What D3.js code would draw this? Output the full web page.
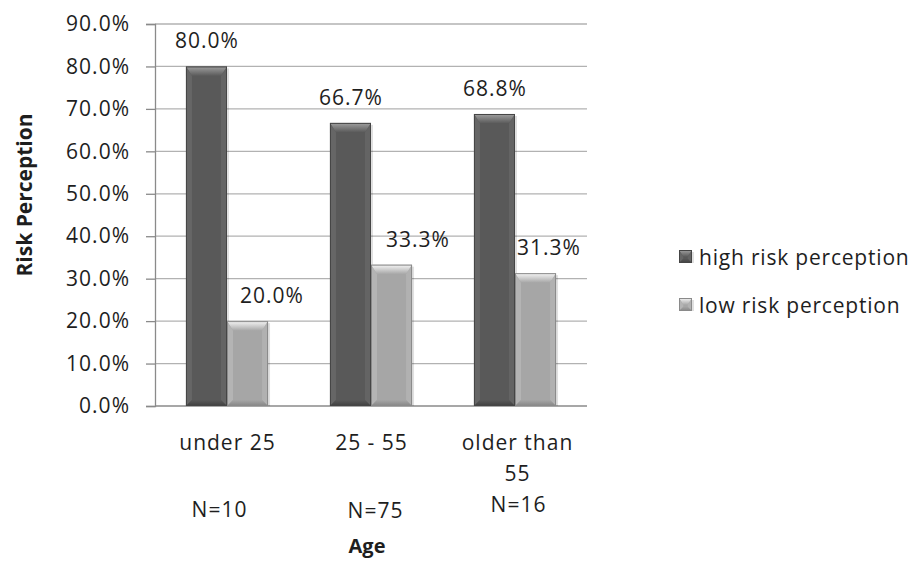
<!DOCTYPE html>
<html>
<head>
<meta charset="utf-8">
<script src="https://cdn.jsdelivr.net/npm/d3@7"></script>
<style>
  html, body { margin: 0; padding: 0; background: #ffffff; }
  svg { display: block; }
  text { font-family: "Open Sans", "Liberation Sans", sans-serif; fill: #1e1e1e; }
</style>
</head>
<body>
<svg id="chart" width="913" height="561"></svg>
<script>
// Age groups and their sample sizes
const categories = ["under 25", "25 - 55", "older than 55"];
const sampleSizes = ["N=10", "N=75", "N=16"];
// Share of respondents per risk-perception level (percent)
const highRisk = [80.0, 66.7, 68.8];
const lowRisk = [20.0, 33.3, 31.3];
const seriesNames = ["high risk perception", "low risk perception"];
const yTicks = [0, 10, 20, 30, 40, 50, 60, 70, 80, 90];

// Layout
const W = 913, H = 561;
const plot = { left: 155, right: 587, top: 24, bottom: 406 };
const lowLabelShift = [24, 26, 13];   // horizontal nudge for the light-bar labels
const FS = 21, LS = 1;                // body font size and letter spacing

const svg = d3.select("#chart");
const defs = svg.append("defs");

const palette = [
  { base: "#595959", hi: "#a0a0a0", side: "#666666", dark: "#3f3f3f", edge: "#454545" },
  { base: "#a6a6a6", hi: "#f6f6f6", side: "#b4b4b4", dark: "#858585", edge: "#8a8a8a" }
];

palette.forEach((p, i) => {
  const g = defs.append("linearGradient").attr("id", "top" + i)
    .attr("x1", 0).attr("y1", 0).attr("x2", 0).attr("y2", 1);
  g.append("stop").attr("offset", 0).attr("stop-color", p.hi);
  g.append("stop").attr("offset", 1).attr("stop-color", p.base);
  const b = defs.append("linearGradient").attr("id", "bot" + i)
    .attr("x1", 0).attr("y1", 0).attr("x2", 0).attr("y2", 1);
  b.append("stop").attr("offset", 0).attr("stop-color", p.base);
  b.append("stop").attr("offset", 1).attr("stop-color", p.dark);
});

const y = d3.scaleLinear().domain([0, 90]).range([plot.bottom, plot.top]);
const x0 = d3.scaleBand().domain(categories).range([plot.left, plot.right])
  .paddingInner(0.43).paddingOuter(0.215);
const x1 = d3.scaleBand().domain(seriesNames).range([0, x0.bandwidth()]);

// Horizontal gridlines
svg.append("g")
  .selectAll("line")
  .data(yTicks.filter(t => t > 0))
  .join("line")
  .attr("x1", plot.left).attr("x2", plot.right)
  .attr("y1", d => y(d)).attr("y2", d => y(d))
  .attr("stroke", "#b2b2b2").attr("stroke-width", 1.3);

// Y axis
const yAxis = d3.axisLeft(y).tickValues(yTicks)
  .tickFormat(d => d3.format(".1f")(d) + "%")
  .tickSizeOuter(0).tickSize(9).tickPadding(16);
const gy = svg.append("g").attr("transform", `translate(${plot.left},0)`).call(yAxis);
gy.select(".domain").attr("stroke", "#8a8a8a").attr("stroke-width", 1.3);
gy.selectAll(".tick line").attr("stroke", "#8a8a8a").attr("stroke-width", 1.3);
gy.selectAll(".tick text").attr("font-size", FS)
  .attr("font-family", "'Open Sans', sans-serif").attr("fill", "#1e1e1e")
  .attr("letter-spacing", LS);

// X axis baseline
const xAxis = d3.axisBottom(x0).tickSize(0).tickFormat("");
const gx = svg.append("g").attr("transform", `translate(0,${plot.bottom})`).call(xAxis);
gx.select(".domain").attr("stroke", "#8a8a8a").attr("stroke-width", 1.3)
  .attr("d", `M${plot.left},0H${plot.right}`);

// Bevelled bar
function bevelBar(g, x, yTop, w, h, p, idx) {
  const s = Math.min(6, h / 3);
  const x2 = x + w, yb = yTop + h;
  g.append("rect").attr("x", x + 2).attr("y", yTop + 2).attr("width", w).attr("height", h - 2)
    .attr("fill", "#000").attr("opacity", 0.12);
  g.append("rect").attr("x", x).attr("y", yTop).attr("width", w).attr("height", h)
    .attr("fill", p.base);
  g.append("polygon")
    .attr("points", [[x, yTop], [x2, yTop], [x2 - s, yTop + s * 1.6], [x + s, yTop + s * 1.6]].join(" "))
    .attr("fill", `url(#top${idx})`);
  g.append("polygon")
    .attr("points", [[x, yTop], [x + s, yTop + s * 1.6], [x + s, yb - s], [x, yb]].join(" "))
    .attr("fill", p.side);
  g.append("polygon")
    .attr("points", [[x2, yTop], [x2 - s, yTop + s * 1.6], [x2 - s, yb - s], [x2, yb]].join(" "))
    .attr("fill", p.side).attr("opacity", 0.8);
  g.append("polygon")
    .attr("points", [[x, yb], [x + s, yb - s], [x2 - s, yb - s], [x2, yb]].join(" "))
    .attr("fill", `url(#bot${idx})`);
  g.append("rect").attr("x", x + 0.5).attr("y", yTop + 0.5).attr("width", w - 1).attr("height", h - 1)
    .attr("fill", "none").attr("stroke", p.edge).attr("stroke-width", 1);
}

const series = [highRisk, lowRisk];
const bars = svg.append("g");
categories.forEach((c, ci) => {
  series.forEach((vals, si) => {
    const v = vals[ci];
    const bx = x0(c) + x1(seriesNames[si]);
    bevelBar(bars.append("g"), bx, y(v), x1.bandwidth(), y(0) - y(v), palette[si], si);
  });
});

// Value labels
const labels = svg.append("g");
categories.forEach((c, ci) => {
  series.forEach((vals, si) => {
    const v = vals[ci];
    const cx = x0(c) + x1(seriesNames[si]) + x1.bandwidth() / 2 + (si === 1 ? lowLabelShift[ci] : 0);
    labels.append("text")
      .attr("x", cx + LS / 2).attr("y", y(v) - 26)
      .attr("text-anchor", "middle").attr("dominant-baseline", "central")
      .attr("font-size", FS).attr("letter-spacing", LS)
      .text(d3.format(".1f")(v) + "%");
  });
});

// Category labels (wrapped) and sample sizes
const catLines = [["under 25"], ["25 - 55"], ["older than", "55"]];
const nY = [509, 510, 504];
categories.forEach((c, ci) => {
  const cx = x0(c) + x0.bandwidth() / 2;
  catLines[ci].forEach((line, li) => {
    svg.append("text").attr("x", cx + LS / 2 + (ci === 2 ? 2 : 0)).attr("y", 442 + li * 31)
      .attr("text-anchor", "middle").attr("dominant-baseline", "central")
      .attr("font-size", FS).attr("letter-spacing", LS).text(line);
  });
  svg.append("text").attr("x", cx + LS / 2 + [-8, 4, 3][ci]).attr("y", nY[ci])
    .attr("text-anchor", "middle").attr("dominant-baseline", "central")
    .attr("font-size", FS).attr("letter-spacing", LS).text(sampleSizes[ci]);
});

// Axis titles
svg.append("text").attr("x", 367).attr("y", 545)
  .attr("text-anchor", "middle").attr("dominant-baseline", "central")
  .attr("font-size", 20).attr("font-weight", "bold").text("Age");
svg.append("text").attr("transform", "translate(24,195) rotate(-90)")
  .attr("text-anchor", "middle").attr("dominant-baseline", "central")
  .attr("font-size", 21).attr("font-weight", "bold").text("Risk Perception");

// Legend
const legend = svg.append("g");
seriesNames.forEach((name, i) => {
  const ly = [257, 305][i];
  const p = palette[i];
  const sq = legend.append("g");
  bevelBar(sq, 679, ly - 7, 13, 13, p, i);
  legend.append("text").attr("x", 699).attr("y", ly)
    .attr("dominant-baseline", "central").attr("font-size", FS).attr("letter-spacing", 0.8)
    .text(name);
});
</script>
</body>
</html>
